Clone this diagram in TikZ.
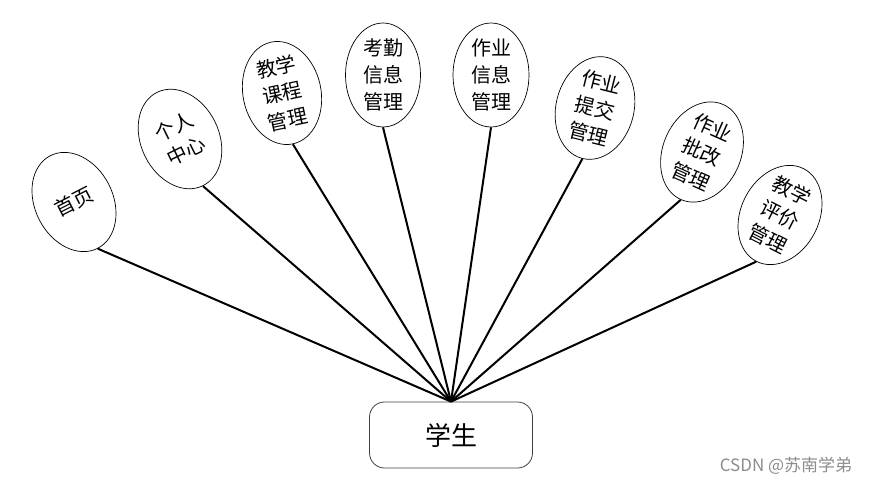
\documentclass[tikz,border=0pt]{standalone}
\usepackage{fontspec}
\newfontfamily\cjk{Noto Sans CJK SC}
\usetikzlibrary{shapes.geometric}
\tikzset{
  attr/.style={draw,ellipse,line width=0.7pt,inner sep=0pt,minimum width=78pt,minimum height=104pt,align=center,font=\cjk\fontsize{20}{27}\selectfont},
  ent/.style={draw=black!75,rounded corners=15pt,line width=0.8pt,minimum width=163pt,minimum height=66pt,font=\cjk\fontsize{26}{30}\selectfont},
  link/.style={line width=2pt}
}
\begin{document}
\begin{tikzpicture}[x=1pt,y=-1pt]
    \useasboundingbox (0,0) rectangle (869,485);
    % entity
    \node (stu) at (451,435) [ent] {学生};
    % attributes, left to right
    \node (home) at (74,202) [attr,rotate=27] {首页};
    \node (self) at (180,139) [attr,rotate=26] {个人\\中心};
    \node (course) at (282,93) [attr,rotate=12] {教学\\课程\\管理};
    \node (attend) at (383,75) [attr,minimum width=75pt] {考勤\\信息\\管理};
    \node (hwinfo) at (491,75) [attr,minimum width=76pt] {作业\\信息\\管理};
    \node (hwsub) at (595,108) [attr,rotate=-14] {作业\\提交\\管理};
    \node (hwmark) at (702,152) [attr,rotate=-24] {作业\\批改\\管理};
    \node (eval) at (780,215) [attr,rotate=-27] {教学\\评价\\管理};
    \foreach \n in {home,self,course,attend,hwinfo,hwsub,hwmark,eval}
      \draw[link] (\n.south) -- (stu.north);
    \node (mark) at (786,466) [text=black!45,font=\cjk\fontsize{17}{19}\selectfont] {CSDN @苏南学弟};
\end{tikzpicture}
\end{document}
